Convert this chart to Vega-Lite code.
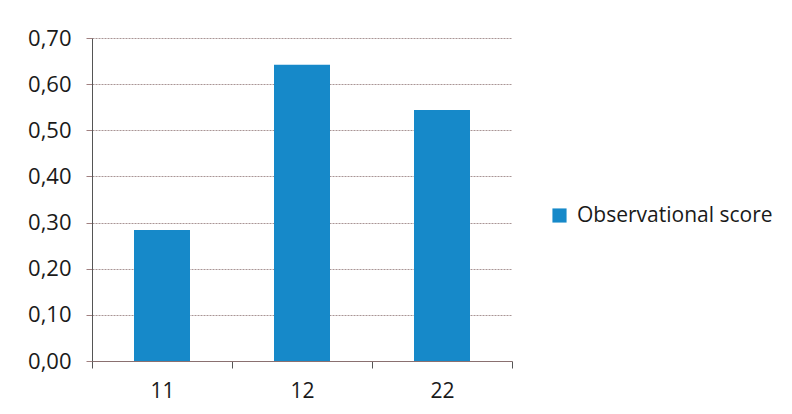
{
  "$schema": "https://vega.github.io/schema/vega-lite/v6.json",
  "width": 420,
  "height": 323,
  "autosize": "none",
  "padding": {"left": 92, "top": 38, "right": 280, "bottom": 53},
  "background": "white",
  "data": {"values": [
    {"group": "11", "score": 0.284, "series": "Observational score"},
    {"group": "12", "score": 0.642, "series": "Observational score"},
    {"group": "22", "score": 0.544, "series": "Observational score"}
  ]},
  "mark": {"type": "bar", "width": {"band": 0.4}},
  "encoding": {
    "x": {"field": "group", "type": "nominal", "sort": null, "title": null,
      "scale": {"paddingInner": 0, "paddingOuter": 0},
      "axis": {"labelAngle": 0, "tickBand": "extent", "labelPadding": 12, "tickSize": 7, "tickColor": "#555555", "domainColor": "#8a7070", "labelFontSize": 21}},
    "y": {"field": "score", "type": "quantitative", "title": null,
      "scale": {"domain": [0, 0.7], "nice": false},
      "axis": {"values": [0, 0.1, 0.2, 0.3, 0.4, 0.5, 0.6, 0.7], "labelExpr": "replace(format(datum.value, '.2f'), '.', ',')", "tickSize": 6, "labelPadding": 15, "domainColor": "#555555", "tickColor": "#a08080", "grid": true, "gridColor": "#a08a8a", "gridDash": [2, 1], "gridOpacity": 0.9, "labelFontSize": 22}},
    "color": {"field": "series", "type": "nominal", "title": null,
      "scale": {"range": ["#1689c9"]},
      "legend": {"orient": "none", "legendX": 457, "legendY": 167, "symbolType": "square", "symbolSize": 200, "labelFontSize": 21, "labelLimit": 400, "symbolStrokeWidth": 0, "labelOffset": 7}}
  },
  "config": {
    "font": "Open Sans",
    "view": {"stroke": null},
    "axis": {"labelColor": "#1a1a1a", "labelFont": "Open Sans", "domainWidth": 1},
    "legend": {"labelColor": "#1a1a1a", "labelFont": "Open Sans"}
  }
}
